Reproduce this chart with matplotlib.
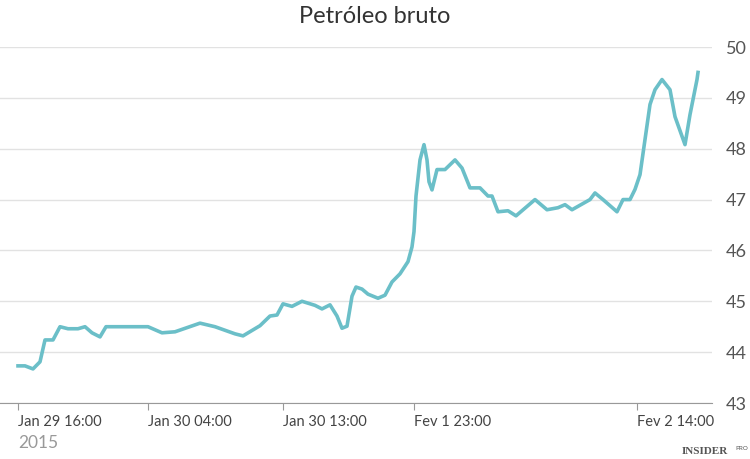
import matplotlib.pyplot as plt

plt.rcParams['font.family'] = ['Lato', 'DejaVu Sans']

# x in chart position units (trading time is not linear), y = price
pos = [18, 25, 33, 40, 45, 53, 60, 68, 78, 85, 92, 100, 106, 148, 162, 175, 200, 215,
       235, 243, 260, 270, 277, 283, 292, 302, 315, 322, 330, 337, 342, 347, 352, 356,
       362, 368, 378, 385, 392, 400, 408, 412, 414, 416, 420, 424, 427, 429, 432, 437,
       445, 455, 462, 470, 480, 488, 492, 498, 508, 516, 535, 547, 558, 565, 572, 590,
       595, 603, 617, 623, 630, 635, 640, 645, 650, 655, 662, 670, 675, 685, 690, 697, 698]
price = [43.73, 43.73, 43.67, 43.81, 44.24, 44.24, 44.5, 44.46, 44.46, 44.5, 44.38, 44.3,
         44.5, 44.5, 44.38, 44.4, 44.57, 44.5, 44.36, 44.32, 44.52, 44.71, 44.73, 44.95,
         44.9, 45.0, 44.92, 44.85, 44.93, 44.71, 44.47, 44.51, 45.1, 45.28, 45.24, 45.14,
         45.06, 45.12, 45.38, 45.54, 45.78, 46.07, 46.37, 47.07, 47.78, 48.08, 47.78,
         47.35, 47.19, 47.59, 47.59, 47.78, 47.62, 47.23, 47.23, 47.07, 47.07, 46.76,
         46.78, 46.68, 47.0, 46.8, 46.84, 46.9, 46.8, 47.0, 47.13, 47.0, 46.76, 47.0, 47.0,
         47.2, 47.49, 48.18, 48.87, 49.16, 49.36, 49.16, 48.63, 48.08, 48.67, 49.36, 49.5]
tick_pos = [18, 148, 283, 414, 637]
tick_labels = ['Jan 29 16:00', 'Jan 30 04:00', 'Jan 30 13:00', 'Fev 1 23:00', 'Fev 2 14:00']
y_ticks = [43, 44, 45, 46, 47, 48, 49, 50]

fig = plt.figure(figsize=(7.5, 4.59), dpi=100)
ax = fig.add_axes([0.0, 1 - 403 / 459, 712 / 750, (403 - 47) / 459])
ax.plot(pos, price, color='#6bbfc8', lw=2.6, solid_joinstyle='round')
ax.set_xlim(0, 712)
ax.set_ylim(43, 50)
ax.set_yticks(y_ticks)
ax.yaxis.tick_right()
ax.tick_params(axis='y', length=0, pad=10, labelsize=13, labelcolor='#555555')
ax.set_xticks(tick_pos)
ax.set_xticklabels(tick_labels, ha='left')
ax.tick_params(axis='x', length=5, color='#999999', labelsize=10.5, labelcolor='#444444')
ax.grid(axis='y', color='#e2e2e2', lw=1)
ax.set_axisbelow(True)
for s in ['top', 'left', 'right']:
    ax.spines[s].set_visible(False)
ax.spines['bottom'].set_color('#999999')

fig.text(0.5, 0.965, 'Petróleo bruto', ha='center', va='center', fontsize=17, color='#333333')
fig.text(18 / 750, 1 - 443 / 459, '2015', ha='left', va='center', fontsize=12.5, color='#999999')
fig.text(0.97, 1 - 452 / 459, 'INSIDER', ha='right', va='center', fontsize=8,
         color='#555555', family='Liberation Serif', fontweight='bold')
fig.text(0.998, 1 - 449 / 459, 'PRO', ha='right', va='center', fontsize=4.5, color='#555555')

fig.savefig('out.png', dpi=100)
